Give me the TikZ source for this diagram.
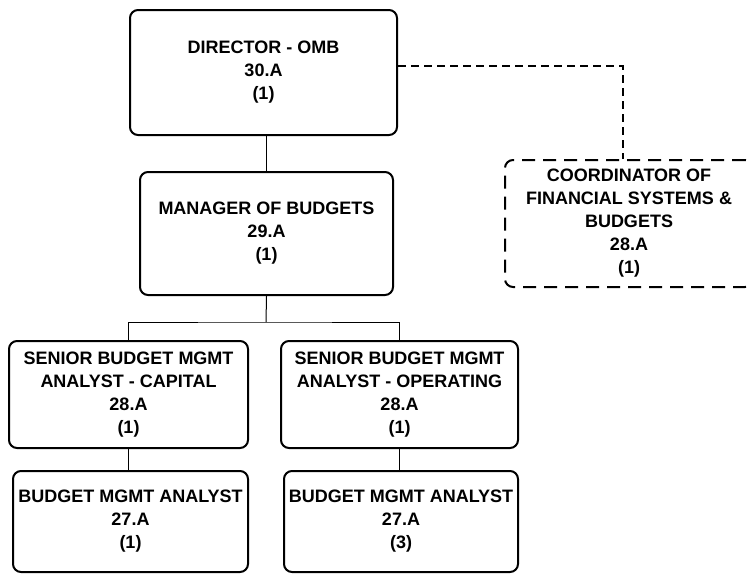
\documentclass[tikz,border=0pt]{standalone}
\usepackage{fontspec}
\setmainfont{Liberation Sans}
\begin{document}
\begin{tikzpicture}[x=1pt,y=1pt,
  box/.style={draw, line width=2pt, rounded corners=8pt, align=center, inner sep=0pt,
    font=\bfseries\fontsize{18}{23}\selectfont},
  dbox/.style={box, dash pattern=on 13pt off 8pt},
  conn/.style={line width=1pt},
  dconn/.style={line width=1.2pt, dash pattern=on 8pt off 5pt}]
\useasboundingbox (0,0) rectangle (751,-573);
\clip (0,0) rectangle (751,-573);
\node[box, minimum width=267pt, minimum height=125pt] (dir) at (263.5,-72.5) {DIRECTOR - OMB\\30.A\\(1)};
\node[box, minimum width=253pt, minimum height=123pt] (mgr) at (266.5,-233.5) {MANAGER OF BUDGETS\\29.A\\(1)};
\node[dbox, minimum width=248pt, minimum height=127pt] (coord) at (629,-223.5) {COORDINATOR OF\\FINANCIAL SYSTEMS \&\\BUDGETS\\28.A\\(1)};
\node[box, minimum width=239pt, minimum height=107pt] (cap) at (128.5,-394.5) {SENIOR BUDGET MGMT\\ANALYST - CAPITAL\\28.A\\(1)};
\node[box, minimum width=237pt, minimum height=107pt] (ops) at (399.5,-394.5) {SENIOR BUDGET MGMT\\ANALYST - OPERATING\\28.A\\(1)};
\node[box, minimum width=235pt, minimum height=101pt] (b1) at (130.5,-521.5) {BUDGET MGMT ANALYST\\27.A\\(1)};
\node[box, minimum width=234pt, minimum height=101pt] (b2) at (401,-521.5) {BUDGET MGMT ANALYST\\27.A\\(3)};
\coordinate (bar) at (266,-322);
\coordinate (dtap) at (623,-66);
\draw[conn] (mgr.north) -- (mgr.north |- dir.south);
\draw[conn] (mgr.south) -- (bar);
\draw[conn] (cap.north) |- (bar) -| (ops.north);
\draw[conn] (cap.south) -- (cap.south |- b1.north);
\draw[conn] (ops.south) -- (ops.south |- b2.north);
\draw[dconn] (dir.east |- dtap) -- (dtap) -- (dtap |- coord.north);
\end{tikzpicture}
\end{document}
